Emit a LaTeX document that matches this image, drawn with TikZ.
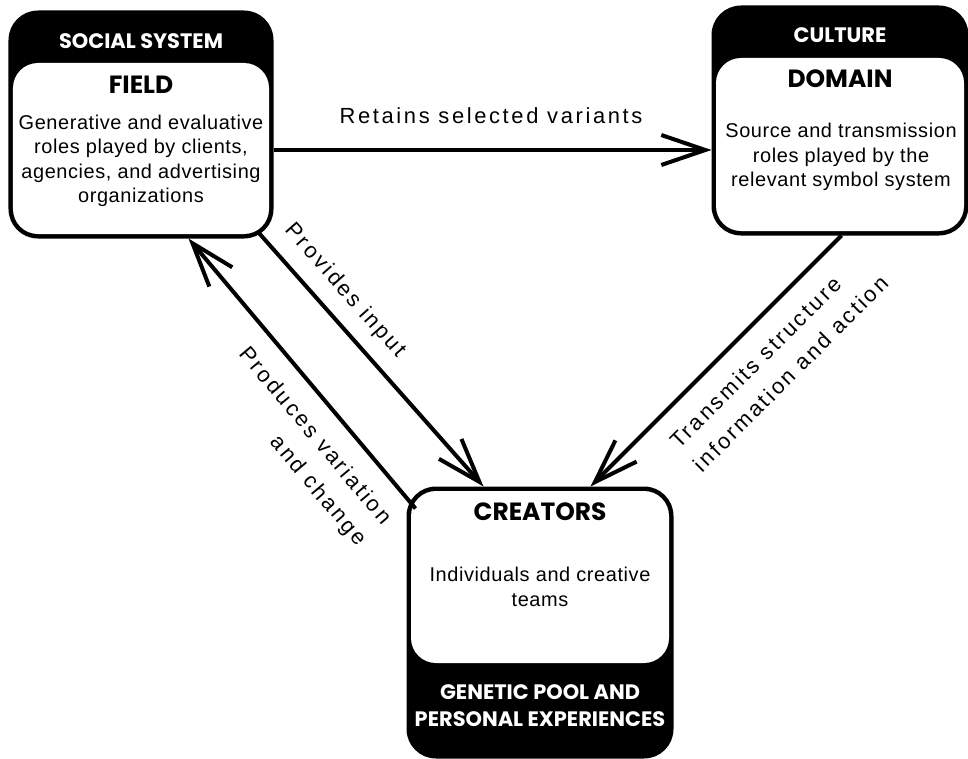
\documentclass[tikz,border=0pt]{standalone}
\usepackage{fontspec}
\setmainfont{Liberation Sans}
\newfontfamily\headfont{Poppins}
\usetikzlibrary{arrows.meta,calc}

\begin{document}
\begin{tikzpicture}[x=1bp,y=-1bp,
    outerbox/.style={draw=black, line width=3bp, fill=black, rounded corners=28bp, inner sep=0pt},
    innerbox/.style={fill=white, rounded corners=25bp, inner sep=0pt},
    head/.style={text=white, font=\headfont\bfseries\fontsize{21}{27}\selectfont, align=center},
    title/.style={font=\headfont\bfseries\fontsize{25}{28}\selectfont},
    body/.style={font=\addfontfeatures{LetterSpace=3}\fontsize{20}{24.5}\selectfont, align=center},
    link/.style={line width=4bp, -{Straight Barb[length=44bp,width=30bp]}},
    lbl/.style={font=\addfontfeatures{LetterSpace=12}\fontsize{22}{28}\selectfont, align=center}
]
\useasboundingbox (0,0) rectangle (968,759);

    % field
    \node[outerbox, minimum width=262bp, minimum height=225bp] (field) at (141,124.5) {};
    \node[innerbox, minimum width=256bp, minimum height=171bp] (fieldin) at (141,148.5) {};
    \node[head] (fieldhead) at (141,41) {SOCIAL SYSTEM};
    \node[title] (fieldname) at (141,85) {FIELD};
    \node[body] (fieldtext) at (141,161) {Generative and evaluative\\roles played by clients,\\agencies, and advertising\\organizations};

    % domain
    \node[outerbox, minimum width=254bp, minimum height=227bp] (domain) at (840,120.5) {};
    \node[innerbox, minimum width=248bp, minimum height=173bp] (domainin) at (840,144.5) {};
    \node[head] (domainhead) at (840,35) {CULTURE};
    \node[title] (domainname) at (840,79) {DOMAIN};
    \node[body] (domaintext) at (841,157) {Source and transmission\\roles played by the\\relevant symbol system};

    % creators
    \node[outerbox, minimum width=264bp, minimum height=269bp] (creators) at (540,622.5) {};
    \node[innerbox, minimum width=258bp, minimum height=172bp] (creatorsin) at (540,577) {};
    \node[title] (creatorsname) at (540,512) {CREATORS};
    \node[body] (creatorstext) at (540,587) {Individuals and creative\\teams};
    \node[head] (creatorshead) at (540,706) {GENETIC POOL AND\\PERSONAL EXPERIENCES};

    \coordinate (r1) at ($(field.east)+(0,25.5)$);
    \coordinate (r2) at ($(domain.west)+(0,29.5)$);
    \coordinate (p1) at ($(field.south east)+(-15,-6)$);
    \coordinate (p2) at ($(creators.north west)+(77,0)$);
    \coordinate (v1) at ($(creators.north west)+(9,22)$);
    \coordinate (v2) at ($(field.south west)+(180,0)$);
    \coordinate (t1) at ($(domain.south west)+(130,0)$);
    \coordinate (t2) at ($(creators.north west)+(184,0)$);

    \draw[link] (r1) -- (r2);
    \draw[link] (p1) -- (p2);
    \draw[link] (v1) -- (v2);
    \draw[link] (t1) -- (t2);

    \node[lbl] (retains) at (491,116) {Retains selected variants};
    \node[lbl, rotate=-48.5] (provides) at (345,291) {Provides input};
    \node[lbl, rotate=-50, align=right] (produces) at (302,447) {Produces variation\\[5bp]and change};
    \node[lbl, rotate=45, align=left] (transmits) at (779,362) {Transmits structure\\[5bp]information and action};
\end{tikzpicture}
\end{document}
